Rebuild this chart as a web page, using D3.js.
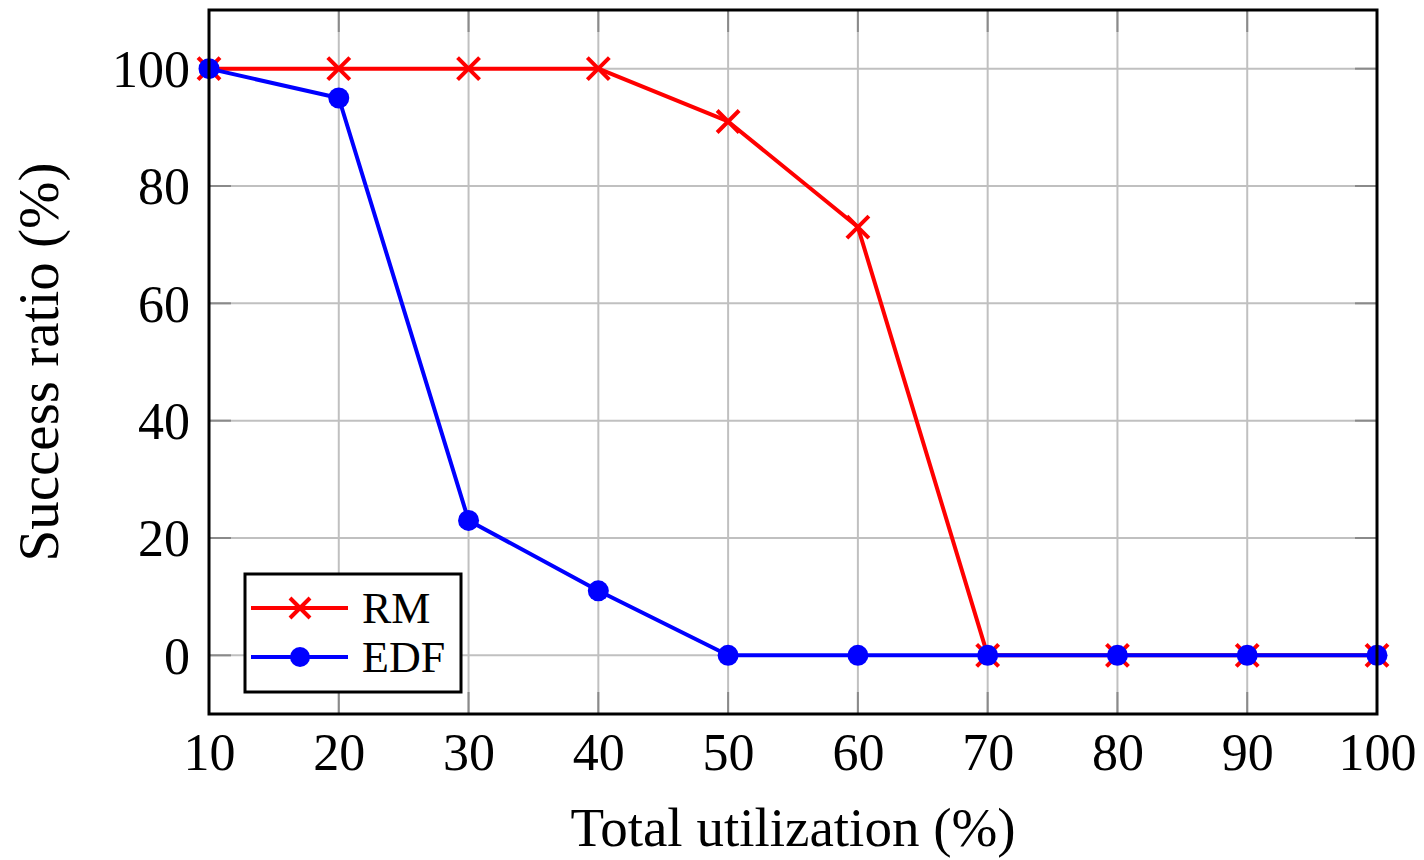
<!DOCTYPE html>
<html>
<head>
<meta charset="utf-8">
<script src="https://cdn.jsdelivr.net/npm/d3@7"></script>
<style>
  html, body { margin:0; padding:0; background:#fff; }
  svg text { font-family: "Liberation Serif", "Times New Roman", serif; fill:#000; }
</style>
</head>
<body>
<svg id="chart" width="1424" height="860"></svg>
<script>
const utilization = [10, 20, 30, 40, 50, 60, 70, 80, 90, 100];
const rmValues = [100, 100, 100, 100, 91, 73, 0, 0, 0, 0];
const edfValues = [100, 95, 23, 11, 0, 0, 0, 0, 0, 0];
const yTicks = [0, 20, 40, 60, 80, 100];
const seriesNames = ["RM", "EDF"];

const svg = d3.select("#chart");
const m = { l: 209, r: 1377, t: 10, b: 714 };

const x = d3.scaleLinear().domain([10, 100]).range([m.l, m.r]);
const y = d3.scaleLinear().domain([-10, 110]).range([m.b, m.t]);

// grid
const grid = svg.append("g").attr("stroke", "#c0c0c0").attr("stroke-width", 2);
grid.selectAll("line.gx").data(utilization).enter().append("line")
  .attr("x1", d => x(d)).attr("x2", d => x(d)).attr("y1", m.t).attr("y2", m.b);
grid.selectAll("line.gy").data(yTicks).enter().append("line")
  .attr("y1", d => y(d)).attr("y2", d => y(d)).attr("x1", m.l).attr("x2", m.r);

// inner ticks
const tk = 22;
const ticks = svg.append("g").attr("stroke", "#8a8a8a").attr("stroke-width", 2);
utilization.forEach(d => {
  ticks.append("line").attr("x1", x(d)).attr("x2", x(d)).attr("y1", m.b).attr("y2", m.b - tk);
  ticks.append("line").attr("x1", x(d)).attr("x2", x(d)).attr("y1", m.t).attr("y2", m.t + tk);
});
yTicks.forEach(d => {
  ticks.append("line").attr("y1", y(d)).attr("y2", y(d)).attr("x1", m.l).attr("x2", m.l + tk);
  ticks.append("line").attr("y1", y(d)).attr("y2", y(d)).attr("x1", m.r).attr("x2", m.r - tk);
});

// axes (labels only, via d3 axis)
const xAxis = svg.append("g").attr("transform", `translate(0,${m.b})`)
  .call(d3.axisBottom(x).tickValues(utilization).tickSize(0));
const yAxis = svg.append("g").attr("transform", `translate(${m.l},0)`)
  .call(d3.axisLeft(y).tickValues(yTicks).tickSize(0).tickPadding(19));
[xAxis, yAxis].forEach(a => {
  a.select(".domain").remove();
  a.selectAll("text").style("font-family", '"Liberation Serif", serif').style("font-size", "52px").attr("fill", "#000");
});
xAxis.selectAll("text").attr("y", 56).attr("dy", 0);
yAxis.selectAll("text").attr("dy", "0.34em");

const line = d3.line().x((d, i) => x(utilization[i])).y(d => y(d));

function cross(g, cx, cy, s) {
  g.append("path")
    .attr("d", `M${cx - s},${cy - s}L${cx + s},${cy + s}M${cx - s},${cy + s}L${cx + s},${cy - s}`)
    .attr("stroke", "#ff0000").attr("stroke-width", 4).attr("fill", "none");
}

// RM
const rmG = svg.append("g");
rmG.append("path").datum(rmValues).attr("d", line)
  .attr("fill", "none").attr("stroke", "#ff0000").attr("stroke-width", 4).attr("stroke-linejoin", "round");
rmValues.forEach((v, i) => cross(rmG, x(utilization[i]), y(v), 11));

// EDF
const edfG = svg.append("g");
edfG.append("path").datum(edfValues).attr("d", line)
  .attr("fill", "none").attr("stroke", "#0000ff").attr("stroke-width", 4).attr("stroke-linejoin", "round");
edfG.selectAll("circle").data(edfValues).enter().append("circle")
  .attr("cx", (d, i) => x(utilization[i])).attr("cy", d => y(d)).attr("r", 10.5).attr("fill", "#0000ff");

// frame
svg.append("rect").attr("x", m.l).attr("y", m.t).attr("width", m.r - m.l).attr("height", m.b - m.t)
  .attr("fill", "none").attr("stroke", "#000").attr("stroke-width", 3);

// legend
const lg = svg.append("g");
lg.append("rect").attr("x", 245).attr("y", 574).attr("width", 216).attr("height", 118)
  .attr("fill", "#fff").attr("stroke", "#000").attr("stroke-width", 3);
const legY = [608, 657];
seriesNames.forEach((name, i) => {
  const col = i === 0 ? "#ff0000" : "#0000ff";
  lg.append("line").attr("x1", 251).attr("x2", 348).attr("y1", legY[i]).attr("y2", legY[i])
    .attr("stroke", col).attr("stroke-width", 4);
  if (i === 0) cross(lg, 300, legY[i], 10);
  else lg.append("circle").attr("cx", 300).attr("cy", legY[i]).attr("r", 10).attr("fill", col);
  lg.append("text").attr("x", 362).attr("y", legY[i]).attr("dy", "0.35em")
    .style("font-size", "44px").text(name);
});

// axis titles
svg.append("text").attr("x", (m.l + m.r) / 2).attr("y", 846).attr("text-anchor", "middle")
  .style("font-size", "55px").text("Total utilization (%)");
svg.append("text").attr("transform", `translate(58,${(m.t + m.b) / 2}) rotate(-90)`)
  .attr("text-anchor", "middle").style("font-size", "57px").text("Success ratio (%)");
</script>
</body>
</html>
